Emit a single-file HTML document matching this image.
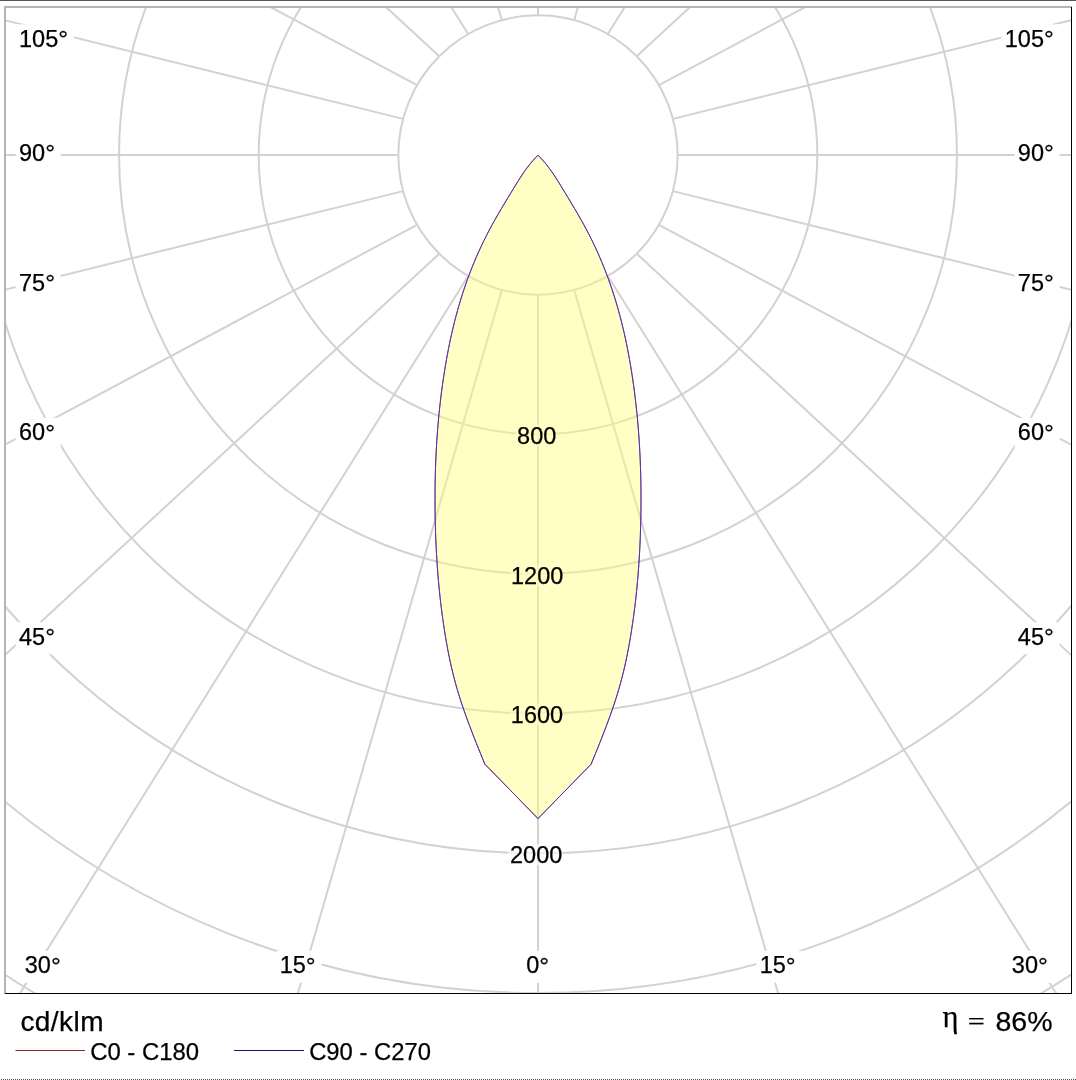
<!DOCTYPE html>
<html><head><meta charset="utf-8"><style>
html,body{margin:0;padding:0;background:#fff;}
body{width:1076px;height:1080px;overflow:hidden;position:relative;}
svg{position:absolute;left:0;top:0;}
text{font-family:"Liberation Sans",Arial,sans-serif;fill:#000;stroke:#000;stroke-width:0.25px;}
.dots{position:absolute;left:0;top:1079px;width:1076px;height:1px;background:repeating-linear-gradient(to right,#fff 0 1px,#4d4d4d 1px 2px);}
</style></head><body>
<svg width="1076" height="1080" viewBox="0 0 1076 1080">
<defs>
<clipPath id="pc"><rect x="6" y="8" width="1065" height="985"/></clipPath>
<mask id="lm">
<rect x="0" y="0" width="1076" height="1080" fill="#fff"/>
<rect x="15.7" y="24.3" width="58.1" height="32.0" fill="#000"/>
<rect x="15.7" y="138.3" width="45.0" height="32.0" fill="#000"/>
<rect x="15.7" y="268.3" width="45.0" height="32.0" fill="#000"/>
<rect x="15.7" y="417.8" width="45.0" height="32.0" fill="#000"/>
<rect x="15.7" y="622.2" width="45.0" height="32.0" fill="#000"/>
<rect x="21.5" y="950.8" width="45.0" height="32.0" fill="#000"/>
<rect x="1001.5" y="24.3" width="58.1" height="32.0" fill="#000"/>
<rect x="1014.6" y="138.3" width="45.0" height="32.0" fill="#000"/>
<rect x="1014.6" y="268.3" width="45.0" height="32.0" fill="#000"/>
<rect x="1014.6" y="417.8" width="45.0" height="32.0" fill="#000"/>
<rect x="1014.6" y="622.2" width="45.0" height="32.0" fill="#000"/>
<rect x="1008.6" y="950.8" width="45.0" height="32.0" fill="#000"/>
<rect x="276.4" y="950.8" width="45.0" height="32.0" fill="#000"/>
<rect x="523.0" y="950.9" width="32.0" height="32.0" fill="#000"/>
<rect x="756.4" y="950.7" width="45.0" height="32.0" fill="#000"/>
<rect x="515.0" y="424.8" width="41.9" height="21.5" fill="#606060"/>
<rect x="510.0" y="564.6" width="53.0" height="21.8" fill="#606060"/>
<rect x="509.6" y="703.4" width="53.4" height="21.9" fill="#606060"/>
<rect x="507.9" y="843.8" width="55.1" height="21.7" fill="#606060"/>
</mask>
</defs>
<rect x="0" y="0" width="1076" height="1" fill="#4b5a69"/>
<g clip-path="url(#pc)">
<g mask="url(#lm)" stroke="#d2d2d2" stroke-width="2" fill="none">
<circle cx="538.0" cy="155.0" r="139.65"/><circle cx="538.0" cy="155.0" r="279.30"/><circle cx="538.0" cy="155.0" r="418.95"/><circle cx="538.0" cy="155.0" r="558.60"/><circle cx="538.0" cy="155.0" r="698.25"/><circle cx="538.0" cy="155.0" r="837.90"/><circle cx="538.0" cy="155.0" r="977.55"/>
<line x1="538.00" y1="294.65" x2="538.00" y2="2294.65"/><line x1="501.86" y1="289.89" x2="-55.17" y2="2210.76"/><line x1="468.18" y1="275.94" x2="-591.63" y2="1972.06"/><line x1="439.25" y1="253.75" x2="-1029.68" y2="1611.04"/><line x1="417.06" y1="224.83" x2="-1347.54" y2="1166.19"/><line x1="403.11" y1="191.14" x2="-1538.27" y2="671.80"/><line x1="398.35" y1="155.00" x2="-1601.65" y2="155.00"/><line x1="403.11" y1="118.86" x2="-1538.27" y2="-361.80"/><line x1="417.06" y1="85.18" x2="-1347.54" y2="-856.19"/><line x1="439.25" y1="56.25" x2="-1029.68" y2="-1301.04"/><line x1="468.18" y1="34.06" x2="-591.63" y2="-1662.06"/><line x1="501.86" y1="20.11" x2="-55.17" y2="-1900.76"/><line x1="538.00" y1="15.35" x2="538.00" y2="-1984.65"/><line x1="574.14" y1="20.11" x2="1131.17" y2="-1900.76"/><line x1="607.83" y1="34.06" x2="1667.63" y2="-1662.06"/><line x1="636.75" y1="56.25" x2="2105.68" y2="-1301.04"/><line x1="658.94" y1="85.17" x2="2423.54" y2="-856.19"/><line x1="672.89" y1="118.86" x2="2614.27" y2="-361.80"/><line x1="677.65" y1="155.00" x2="2677.65" y2="155.00"/><line x1="672.89" y1="191.14" x2="2614.27" y2="671.80"/><line x1="658.94" y1="224.83" x2="2423.54" y2="1166.19"/><line x1="636.75" y1="253.75" x2="2105.68" y2="1611.04"/><line x1="607.83" y1="275.94" x2="1667.63" y2="1972.06"/><line x1="574.14" y1="289.89" x2="1131.17" y2="2210.76"/>
</g>
<path d="M538.00,155.20 L536.23,157.00 L534.54,158.80 L532.92,160.60 L531.37,162.40 L529.88,164.20 L528.45,166.00 L527.07,167.80 L525.75,169.60 L524.46,171.40 L523.21,173.20 L522.00,175.00 L521.33,176.00 L517.89,181.40 L514.56,186.79 L511.27,192.19 L507.99,197.59 L504.74,202.98 L501.52,208.38 L498.36,213.77 L495.27,219.17 L492.26,224.57 L489.35,229.96 L486.55,235.36 L483.85,240.76 L481.26,246.15 L478.77,251.55 L476.39,256.94 L474.09,262.34 L471.90,267.74 L469.79,273.13 L467.78,278.53 L465.85,283.93 L464.00,289.32 L462.24,294.72 L460.55,300.12 L458.94,305.51 L457.41,310.91 L455.94,316.30 L454.54,321.70 L453.21,327.10 L451.95,332.49 L450.74,337.89 L449.59,343.29 L448.50,348.68 L447.47,354.08 L446.48,359.48 L445.55,364.87 L444.66,370.27 L443.81,375.66 L443.01,381.06 L442.25,386.46 L441.53,391.85 L440.85,397.25 L440.22,402.65 L439.62,408.04 L439.06,413.44 L438.54,418.83 L438.06,424.23 L437.62,429.63 L437.21,435.02 L436.84,440.42 L436.51,445.82 L436.21,451.21 L435.94,456.61 L435.71,462.01 L435.52,467.40 L435.35,472.80 L435.22,478.19 L435.12,483.59 L435.05,488.99 L435.01,494.38 L435.00,499.78 L435.02,505.18 L435.07,510.57 L435.14,515.97 L435.25,521.37 L435.38,526.76 L435.54,532.16 L435.73,537.55 L435.96,542.95 L436.21,548.35 L436.50,553.74 L436.82,559.14 L437.17,564.54 L437.56,569.93 L437.98,575.33 L438.44,580.72 L438.93,586.12 L439.46,591.52 L440.03,596.91 L440.64,602.31 L441.29,607.71 L441.98,613.10 L442.70,618.50 L443.47,623.90 L444.29,629.29 L445.14,634.69 L446.04,640.08 L447.00,645.48 L448.00,650.88 L449.07,656.27 L450.21,661.67 L451.41,667.07 L452.69,672.46 L454.05,677.86 L455.49,683.26 L457.02,688.65 L458.64,694.05 L460.33,699.44 L462.10,704.84 L463.94,710.24 L465.84,715.63 L467.80,721.03 L469.82,726.43 L471.87,731.82 L473.98,737.22 L476.11,742.61 L478.28,748.01 L480.47,753.41 L482.68,758.80 L484.90,764.20 L538.00,818.60 L591.10,764.20 L593.32,758.80 L595.53,753.41 L597.72,748.01 L599.89,742.61 L602.02,737.22 L604.13,731.82 L606.18,726.43 L608.20,721.03 L610.16,715.63 L612.06,710.24 L613.90,704.84 L615.67,699.44 L617.36,694.05 L618.98,688.65 L620.51,683.26 L621.95,677.86 L623.31,672.46 L624.59,667.07 L625.79,661.67 L626.93,656.27 L628.00,650.88 L629.00,645.48 L629.96,640.08 L630.86,634.69 L631.71,629.29 L632.53,623.90 L633.30,618.50 L634.02,613.10 L634.71,607.71 L635.36,602.31 L635.97,596.91 L636.54,591.52 L637.07,586.12 L637.56,580.72 L638.02,575.33 L638.44,569.93 L638.83,564.54 L639.18,559.14 L639.50,553.74 L639.79,548.35 L640.04,542.95 L640.27,537.55 L640.46,532.16 L640.62,526.76 L640.75,521.37 L640.86,515.97 L640.93,510.57 L640.98,505.18 L641.00,499.78 L640.99,494.38 L640.95,488.99 L640.88,483.59 L640.78,478.19 L640.65,472.80 L640.48,467.40 L640.29,462.01 L640.06,456.61 L639.79,451.21 L639.49,445.82 L639.16,440.42 L638.79,435.02 L638.38,429.63 L637.94,424.23 L637.46,418.83 L636.94,413.44 L636.38,408.04 L635.78,402.65 L635.15,397.25 L634.47,391.85 L633.75,386.46 L632.99,381.06 L632.19,375.66 L631.34,370.27 L630.45,364.87 L629.52,359.48 L628.53,354.08 L627.50,348.68 L626.41,343.29 L625.26,337.89 L624.05,332.49 L622.79,327.10 L621.46,321.70 L620.06,316.30 L618.59,310.91 L617.06,305.51 L615.45,300.12 L613.76,294.72 L612.00,289.32 L610.15,283.93 L608.22,278.53 L606.21,273.13 L604.10,267.74 L601.91,262.34 L599.61,256.94 L597.23,251.55 L594.74,246.15 L592.15,240.76 L589.45,235.36 L586.65,229.96 L583.74,224.57 L580.73,219.17 L577.64,213.77 L574.48,208.38 L571.26,202.98 L568.01,197.59 L564.73,192.19 L561.44,186.79 L558.11,181.40 L554.67,176.00 L554.00,175.00 L552.79,173.20 L551.54,171.40 L550.25,169.60 L548.93,167.80 L547.55,166.00 L546.12,164.20 L544.63,162.40 L543.08,160.60 L541.46,158.80 L539.77,157.00 L538.00,155.20 Z" fill="#ffff7b" fill-opacity="0.44" stroke="none"/>
<path d="M538.00,155.20 L536.23,157.00 L534.54,158.80 L532.92,160.60 L531.37,162.40 L529.88,164.20 L528.45,166.00 L527.07,167.80 L525.75,169.60 L524.46,171.40 L523.21,173.20 L522.00,175.00 L521.33,176.00 L517.89,181.40 L514.56,186.79 L511.27,192.19 L507.99,197.59 L504.74,202.98 L501.52,208.38 L498.36,213.77 L495.27,219.17 L492.26,224.57 L489.35,229.96 L486.55,235.36 L483.85,240.76 L481.26,246.15 L478.77,251.55 L476.39,256.94 L474.09,262.34 L471.90,267.74 L469.79,273.13 L467.78,278.53 L465.85,283.93 L464.00,289.32 L462.24,294.72 L460.55,300.12 L458.94,305.51 L457.41,310.91 L455.94,316.30 L454.54,321.70 L453.21,327.10 L451.95,332.49 L450.74,337.89 L449.59,343.29 L448.50,348.68 L447.47,354.08 L446.48,359.48 L445.55,364.87 L444.66,370.27 L443.81,375.66 L443.01,381.06 L442.25,386.46 L441.53,391.85 L440.85,397.25 L440.22,402.65 L439.62,408.04 L439.06,413.44 L438.54,418.83 L438.06,424.23 L437.62,429.63 L437.21,435.02 L436.84,440.42 L436.51,445.82 L436.21,451.21 L435.94,456.61 L435.71,462.01 L435.52,467.40 L435.35,472.80 L435.22,478.19 L435.12,483.59 L435.05,488.99 L435.01,494.38 L435.00,499.78 L435.02,505.18 L435.07,510.57 L435.14,515.97 L435.25,521.37 L435.38,526.76 L435.54,532.16 L435.73,537.55 L435.96,542.95 L436.21,548.35 L436.50,553.74 L436.82,559.14 L437.17,564.54 L437.56,569.93 L437.98,575.33 L438.44,580.72 L438.93,586.12 L439.46,591.52 L440.03,596.91 L440.64,602.31 L441.29,607.71 L441.98,613.10 L442.70,618.50 L443.47,623.90 L444.29,629.29 L445.14,634.69 L446.04,640.08 L447.00,645.48 L448.00,650.88 L449.07,656.27 L450.21,661.67 L451.41,667.07 L452.69,672.46 L454.05,677.86 L455.49,683.26 L457.02,688.65 L458.64,694.05 L460.33,699.44 L462.10,704.84 L463.94,710.24 L465.84,715.63 L467.80,721.03 L469.82,726.43 L471.87,731.82 L473.98,737.22 L476.11,742.61 L478.28,748.01 L480.47,753.41 L482.68,758.80 L484.90,764.20 L538.00,818.60 L591.10,764.20 L593.32,758.80 L595.53,753.41 L597.72,748.01 L599.89,742.61 L602.02,737.22 L604.13,731.82 L606.18,726.43 L608.20,721.03 L610.16,715.63 L612.06,710.24 L613.90,704.84 L615.67,699.44 L617.36,694.05 L618.98,688.65 L620.51,683.26 L621.95,677.86 L623.31,672.46 L624.59,667.07 L625.79,661.67 L626.93,656.27 L628.00,650.88 L629.00,645.48 L629.96,640.08 L630.86,634.69 L631.71,629.29 L632.53,623.90 L633.30,618.50 L634.02,613.10 L634.71,607.71 L635.36,602.31 L635.97,596.91 L636.54,591.52 L637.07,586.12 L637.56,580.72 L638.02,575.33 L638.44,569.93 L638.83,564.54 L639.18,559.14 L639.50,553.74 L639.79,548.35 L640.04,542.95 L640.27,537.55 L640.46,532.16 L640.62,526.76 L640.75,521.37 L640.86,515.97 L640.93,510.57 L640.98,505.18 L641.00,499.78 L640.99,494.38 L640.95,488.99 L640.88,483.59 L640.78,478.19 L640.65,472.80 L640.48,467.40 L640.29,462.01 L640.06,456.61 L639.79,451.21 L639.49,445.82 L639.16,440.42 L638.79,435.02 L638.38,429.63 L637.94,424.23 L637.46,418.83 L636.94,413.44 L636.38,408.04 L635.78,402.65 L635.15,397.25 L634.47,391.85 L633.75,386.46 L632.99,381.06 L632.19,375.66 L631.34,370.27 L630.45,364.87 L629.52,359.48 L628.53,354.08 L627.50,348.68 L626.41,343.29 L625.26,337.89 L624.05,332.49 L622.79,327.10 L621.46,321.70 L620.06,316.30 L618.59,310.91 L617.06,305.51 L615.45,300.12 L613.76,294.72 L612.00,289.32 L610.15,283.93 L608.22,278.53 L606.21,273.13 L604.10,267.74 L601.91,262.34 L599.61,256.94 L597.23,251.55 L594.74,246.15 L592.15,240.76 L589.45,235.36 L586.65,229.96 L583.74,224.57 L580.73,219.17 L577.64,213.77 L574.48,208.38 L571.26,202.98 L568.01,197.59 L564.73,192.19 L561.44,186.79 L558.11,181.40 L554.67,176.00 L554.00,175.00 L552.79,173.20 L551.54,171.40 L550.25,169.60 L548.93,167.80 L547.55,166.00 L546.12,164.20 L544.63,162.40 L543.08,160.60 L541.46,158.80 L539.77,157.00 L538.00,155.20 Z" fill="none" stroke="#c04040" stroke-width="0.9" stroke-linejoin="round"/>
<path d="M538.00,155.20 L536.23,157.00 L534.54,158.80 L532.92,160.60 L531.37,162.40 L529.88,164.20 L528.45,166.00 L527.07,167.80 L525.75,169.60 L524.46,171.40 L523.21,173.20 L522.00,175.00 L521.33,176.00 L517.89,181.40 L514.56,186.79 L511.27,192.19 L507.99,197.59 L504.74,202.98 L501.52,208.38 L498.36,213.77 L495.27,219.17 L492.26,224.57 L489.35,229.96 L486.55,235.36 L483.85,240.76 L481.26,246.15 L478.77,251.55 L476.39,256.94 L474.09,262.34 L471.90,267.74 L469.79,273.13 L467.78,278.53 L465.85,283.93 L464.00,289.32 L462.24,294.72 L460.55,300.12 L458.94,305.51 L457.41,310.91 L455.94,316.30 L454.54,321.70 L453.21,327.10 L451.95,332.49 L450.74,337.89 L449.59,343.29 L448.50,348.68 L447.47,354.08 L446.48,359.48 L445.55,364.87 L444.66,370.27 L443.81,375.66 L443.01,381.06 L442.25,386.46 L441.53,391.85 L440.85,397.25 L440.22,402.65 L439.62,408.04 L439.06,413.44 L438.54,418.83 L438.06,424.23 L437.62,429.63 L437.21,435.02 L436.84,440.42 L436.51,445.82 L436.21,451.21 L435.94,456.61 L435.71,462.01 L435.52,467.40 L435.35,472.80 L435.22,478.19 L435.12,483.59 L435.05,488.99 L435.01,494.38 L435.00,499.78 L435.02,505.18 L435.07,510.57 L435.14,515.97 L435.25,521.37 L435.38,526.76 L435.54,532.16 L435.73,537.55 L435.96,542.95 L436.21,548.35 L436.50,553.74 L436.82,559.14 L437.17,564.54 L437.56,569.93 L437.98,575.33 L438.44,580.72 L438.93,586.12 L439.46,591.52 L440.03,596.91 L440.64,602.31 L441.29,607.71 L441.98,613.10 L442.70,618.50 L443.47,623.90 L444.29,629.29 L445.14,634.69 L446.04,640.08 L447.00,645.48 L448.00,650.88 L449.07,656.27 L450.21,661.67 L451.41,667.07 L452.69,672.46 L454.05,677.86 L455.49,683.26 L457.02,688.65 L458.64,694.05 L460.33,699.44 L462.10,704.84 L463.94,710.24 L465.84,715.63 L467.80,721.03 L469.82,726.43 L471.87,731.82 L473.98,737.22 L476.11,742.61 L478.28,748.01 L480.47,753.41 L482.68,758.80 L484.90,764.20 L538.00,818.60 L591.10,764.20 L593.32,758.80 L595.53,753.41 L597.72,748.01 L599.89,742.61 L602.02,737.22 L604.13,731.82 L606.18,726.43 L608.20,721.03 L610.16,715.63 L612.06,710.24 L613.90,704.84 L615.67,699.44 L617.36,694.05 L618.98,688.65 L620.51,683.26 L621.95,677.86 L623.31,672.46 L624.59,667.07 L625.79,661.67 L626.93,656.27 L628.00,650.88 L629.00,645.48 L629.96,640.08 L630.86,634.69 L631.71,629.29 L632.53,623.90 L633.30,618.50 L634.02,613.10 L634.71,607.71 L635.36,602.31 L635.97,596.91 L636.54,591.52 L637.07,586.12 L637.56,580.72 L638.02,575.33 L638.44,569.93 L638.83,564.54 L639.18,559.14 L639.50,553.74 L639.79,548.35 L640.04,542.95 L640.27,537.55 L640.46,532.16 L640.62,526.76 L640.75,521.37 L640.86,515.97 L640.93,510.57 L640.98,505.18 L641.00,499.78 L640.99,494.38 L640.95,488.99 L640.88,483.59 L640.78,478.19 L640.65,472.80 L640.48,467.40 L640.29,462.01 L640.06,456.61 L639.79,451.21 L639.49,445.82 L639.16,440.42 L638.79,435.02 L638.38,429.63 L637.94,424.23 L637.46,418.83 L636.94,413.44 L636.38,408.04 L635.78,402.65 L635.15,397.25 L634.47,391.85 L633.75,386.46 L632.99,381.06 L632.19,375.66 L631.34,370.27 L630.45,364.87 L629.52,359.48 L628.53,354.08 L627.50,348.68 L626.41,343.29 L625.26,337.89 L624.05,332.49 L622.79,327.10 L621.46,321.70 L620.06,316.30 L618.59,310.91 L617.06,305.51 L615.45,300.12 L613.76,294.72 L612.00,289.32 L610.15,283.93 L608.22,278.53 L606.21,273.13 L604.10,267.74 L601.91,262.34 L599.61,256.94 L597.23,251.55 L594.74,246.15 L592.15,240.76 L589.45,235.36 L586.65,229.96 L583.74,224.57 L580.73,219.17 L577.64,213.77 L574.48,208.38 L571.26,202.98 L568.01,197.59 L564.73,192.19 L561.44,186.79 L558.11,181.40 L554.67,176.00 L554.00,175.00 L552.79,173.20 L551.54,171.40 L550.25,169.60 L548.93,167.80 L547.55,166.00 L546.12,164.20 L544.63,162.40 L543.08,160.60 L541.46,158.80 L539.77,157.00 L538.00,155.20 Z" fill="none" stroke="#4a34c0" stroke-width="1" stroke-linejoin="round"/>
<text x="19.0" y="46.6" font-size="23.5" text-anchor="start">105<tspan font-size="24.6" dy="0.7">°</tspan></text>
<text x="19.0" y="160.6" font-size="23.5" text-anchor="start">90<tspan font-size="24.6" dy="0.7">°</tspan></text>
<text x="19.0" y="290.6" font-size="23.5" text-anchor="start">75<tspan font-size="24.6" dy="0.7">°</tspan></text>
<text x="19.0" y="440.1" font-size="23.5" text-anchor="start">60<tspan font-size="24.6" dy="0.7">°</tspan></text>
<text x="19.0" y="644.5" font-size="23.5" text-anchor="start">45<tspan font-size="24.6" dy="0.7">°</tspan></text>
<text x="24.8" y="973.1" font-size="23.5" text-anchor="start">30<tspan font-size="24.6" dy="0.7">°</tspan></text>
<text x="1053.8500000000001" y="46.6" font-size="23.5" text-anchor="end">105<tspan font-size="24.6" dy="0.7">°</tspan></text>
<text x="1053.8500000000001" y="160.6" font-size="23.5" text-anchor="end">90<tspan font-size="24.6" dy="0.7">°</tspan></text>
<text x="1053.8500000000001" y="290.6" font-size="23.5" text-anchor="end">75<tspan font-size="24.6" dy="0.7">°</tspan></text>
<text x="1053.8500000000001" y="440.1" font-size="23.5" text-anchor="end">60<tspan font-size="24.6" dy="0.7">°</tspan></text>
<text x="1053.8500000000001" y="644.5" font-size="23.5" text-anchor="end">45<tspan font-size="24.6" dy="0.7">°</tspan></text>
<text x="1047.8500000000001" y="973.1" font-size="23.5" text-anchor="end">30<tspan font-size="24.6" dy="0.7">°</tspan></text>
<text x="297.72" y="973.1" font-size="23.5" text-anchor="middle">15<tspan font-size="24.6" dy="0.7">°</tspan></text>
<text x="537.72" y="973.2" font-size="23.5" text-anchor="middle">0<tspan font-size="24.6" dy="0.7">°</tspan></text>
<text x="777.72" y="973.0" font-size="23.5" text-anchor="middle">15<tspan font-size="24.6" dy="0.7">°</tspan></text>
<text x="536.7" y="443.5" font-size="23.5" text-anchor="middle">800</text>
<text x="537.2" y="583.6" font-size="23.5" text-anchor="middle">1200</text>
<text x="537.0" y="722.5" font-size="23.5" text-anchor="middle">1600</text>
<text x="536.2" y="862.7" font-size="23.5" text-anchor="middle">2000</text>
</g>
<rect x="4" y="6" width="2" height="988" fill="#b4b4b4"/>
<rect x="4" y="6" width="1068" height="2" fill="#b8b4b1"/>
<rect x="1071" y="7" width="1" height="987" fill="#000"/>
<rect x="5" y="993" width="1067" height="1" fill="#000"/>
<text x="20.4" y="1030.7" font-size="28" letter-spacing="0.45">cd/klm</text>
<line x1="15.5" y1="1050.5" x2="85" y2="1050.5" stroke="#8a2a26" stroke-width="1"/>
<text x="90.2" y="1059.6" font-size="23.9">C0 - C180</text>
<line x1="234" y1="1050.5" x2="304" y2="1050.5" stroke="#16146c" stroke-width="1"/>
<text x="309.2" y="1059.6" font-size="23.8">C90 - C270</text>
<text x="942.6" y="1027.2" font-size="30.5" style="font-family:'Liberation Serif',serif">η</text><text transform="translate(967.8,1029.6) scale(1.12,0.92)" font-size="27" style="font-family:'Liberation Serif',serif">=</text><text x="1052.5" y="1030.7" font-size="28.5" text-anchor="end">86%</text>
</svg>
<div class="dots"></div>
</body></html>
